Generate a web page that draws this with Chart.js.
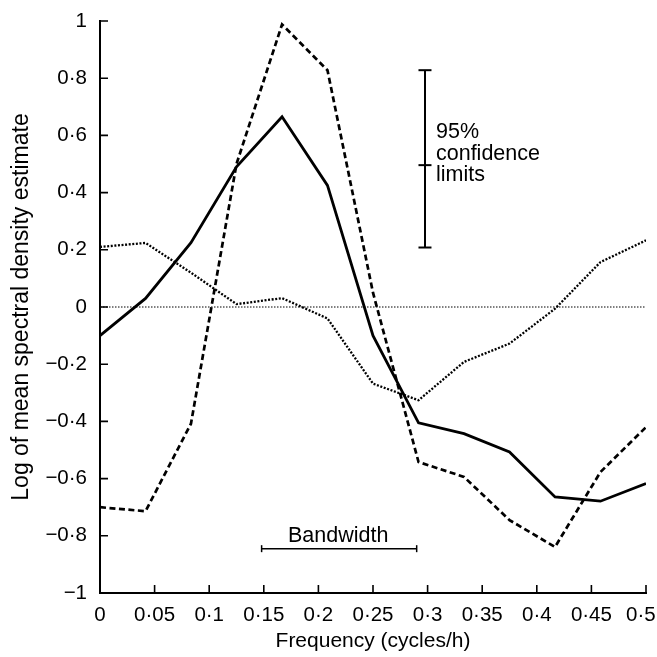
<!DOCTYPE html>
<html><head><meta charset="utf-8">
<script src="https://cdn.jsdelivr.net/npm/chart.js@4/dist/chart.umd.min.js"></script>
<style>html,body{margin:0;padding:0;background:#fff}#wrap{width:657px;height:657px}</style>
</head><body><div id="wrap"><canvas id="c" width="657" height="657"></canvas></div>
<script>
const frequency = [0, 0.0417, 0.0833, 0.125, 0.1667, 0.2083, 0.25, 0.2917, 0.3333, 0.375, 0.4167, 0.4583, 0.5];
const solidSeries = [-0.10, 0.03, 0.225, 0.49, 0.665, 0.425, -0.10, -0.405, -0.443, -0.507, -0.664, -0.679, -0.617];
const dashedSeries = [-0.70, -0.714, -0.408, 0.50, 0.988, 0.828, 0.05, -0.542, -0.594, -0.745, -0.839, -0.577, -0.42];
const dottedSeries = [0.21, 0.224, 0.12, 0.01, 0.031, -0.04, -0.268, -0.326, -0.192, -0.128, -0.006, 0.157, 0.233];
const zeroLineX = [0, 0.5];
const zeroLineY = [0, 0];
const xTicks = [0, 0.05, 0.1, 0.15, 0.2, 0.25, 0.3, 0.35, 0.4, 0.45, 0.5];
const xTickLabels = ['0', '0·05', '0·1', '0·15', '0·2', '0·25', '0·3', '0·35', '0·4', '0·45', '0·5'];
const yTicks = [-1, -0.8, -0.6, -0.4, -0.2, 0, 0.2, 0.4, 0.6, 0.8, 1];
const yTickLabels = ['−1', '−0·8', '−0·6', '−0·4', '−0·2', '0', '0·2', '0·4', '0·6', '0·8', '1'];
const confidenceX = 0.2976;
const confidenceY = [0.208, 0.496, 0.828];
const confidenceText = ['95%', 'confidence', 'limits'];
const bandwidthX = [0.148, 0.29];
const bandwidthY = -0.845;
const bandwidthText = 'Bandwidth';
const xTitle = 'Frequency (cycles/h)';
const yTitle = 'Log of mean spectral density estimate';

const FONT = "'Liberation Sans', Arial, Helvetica, sans-serif";
Chart.defaults.font.family = FONT;
Chart.defaults.color = '#000';

const pts = (xs, ys) => xs.map((x, i) => ({x: x, y: ys[i]}));

const annotPlugin = {
  id: 'annot',
  afterDraw(chart) {
    const ctx = chart.ctx, xs = chart.scales.x, ys = chart.scales.y;
    const area = chart.chartArea;
    ctx.save();
    ctx.strokeStyle = '#000';
    ctx.lineWidth = 1.6;
    ctx.beginPath();
    xTicks.forEach(v => {
      const px = xs.getPixelForValue(v);
      ctx.moveTo(px, area.bottom);
      ctx.lineTo(px, area.bottom - 8);
    });
    yTicks.forEach(v => {
      const py = ys.getPixelForValue(v);
      ctx.moveTo(area.left, py);
      ctx.lineTo(area.left + 8, py);
    });
    ctx.stroke();
    ctx.fillStyle = '#000';
    ctx.font = '21.5px ' + FONT;
    ctx.textAlign = 'left';
    ctx.textBaseline = 'alphabetic';
    const cx = xs.getPixelForValue(confidenceX) + 11;
    const cmid = ys.getPixelForValue(confidenceY[1]);
    confidenceText.forEach((t, i) => {
      ctx.fillText(t, cx, cmid - 27 + i * 21.5);
    });
    ctx.textAlign = 'center';
    const bx = (xs.getPixelForValue(bandwidthX[0]) + xs.getPixelForValue(bandwidthX[1])) / 2 - 1;
    ctx.fillText(bandwidthText, bx, ys.getPixelForValue(bandwidthY) - 7);
    ctx.restore();
  }
};

new Chart(document.getElementById('c'), {
  type: 'scatter',
  data: {
    datasets: [
      {data: pts(zeroLineX, zeroLineY), showLine: true, borderColor: '#000', borderWidth: 1, borderDash: [1.5, 1.5], pointRadius: 0},
      {data: pts(frequency, dottedSeries), showLine: true, borderColor: '#000', borderWidth: 2.3, borderDash: [2, 1.6], pointRadius: 0},
      {data: pts(frequency, dashedSeries), showLine: true, borderColor: '#000', borderWidth: 2.7, borderDash: [6, 3.5], pointRadius: 0},
      {data: pts(frequency, solidSeries), showLine: true, borderColor: '#000', borderWidth: 2.8, pointRadius: 0},
      {data: confidenceY.map(y => ({x: confidenceX, y: y})), showLine: true, borderColor: '#000', borderWidth: 2, pointStyle: 'line', pointRadius: 6.5, pointBorderWidth: 2, pointBorderColor: '#000'},
      {data: bandwidthX.map(x => ({x: x, y: bandwidthY})), showLine: true, borderColor: '#000', borderWidth: 1.5, pointStyle: 'line', pointRotation: 90, pointRadius: 3.5, pointBorderWidth: 1.5, pointBorderColor: '#000'}
    ]
  },
  options: {
    responsive: false,
    animation: false,
    events: [],
    layout: {padding: {left: 0, right: 11, top: 21, bottom: 0}},
    plugins: {legend: {display: false}, tooltip: {enabled: false}},
    scales: {
      x: {
        type: 'linear', min: 0, max: 0.5,
        grid: {display: false, drawTicks: false},
        border: {display: true, color: '#000', width: 2},
        afterBuildTicks: s => { s.ticks = xTicks.map(v => ({value: v})); },
        ticks: {font: {size: 20.5}, padding: 10, maxRotation: 0, autoSkip: false,
          callback: (v, i) => i === xTickLabels.length - 1 ? xTickLabels[i] + '\u2002' : xTickLabels[i]},
        title: {display: true, text: xTitle, font: {size: 21}, padding: {top: 0, bottom: 3.4}},
        afterFit: s => { s.height = 64; s.paddingLeft = 0; s.paddingRight = 0; }
      },
      y: {
        type: 'linear', min: -1, max: 1,
        grid: {display: false, drawTicks: false},
        border: {display: true, color: '#000', width: 2},
        afterBuildTicks: s => { s.ticks = yTicks.map(v => ({value: v})); },
        ticks: {font: {size: 20.5}, padding: 13, autoSkip: false,
          callback: (v, i) => yTickLabels[i]},
        title: {display: true, text: yTitle, font: {size: 23}, padding: {top: 8, bottom: 0}},
        afterFit: s => { s.width = 100; s.paddingTop = 0; s.paddingBottom = 0; }
      }
    }
  },
  plugins: [annotPlugin]
});
</script>
</body></html>
